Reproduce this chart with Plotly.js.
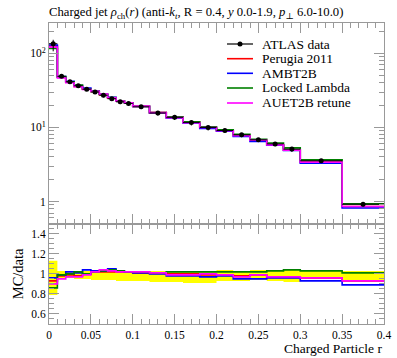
<!DOCTYPE html>
<html>
<head>
<meta charset="utf-8">
<script src="https://cdn.plot.ly/plotly-3.0.1.min.js"></script>
<style>html,body{margin:0;padding:0;background:#fff;}#chart{width:397px;height:358px;}</style>
</head>
<body>
<div id="chart"></div>
<script>
// Bin edges of charged particle r
var binEdges = [0,0.01,0.02,0.03,0.04,0.05,0.06,0.07,0.08,0.09,0.1,0.12,0.14,0.16,0.18,0.2,0.22,0.24,0.26,0.28,0.3,0.35,0.4];
// ATLAS data rho_ch(r)
var dataVals = [135, 49, 41.3, 36.5, 32.8, 30.1, 27.2, 24.4, 22.2, 21.1, 19.0, 15.7, 13.7, 11.7, 10.0, 9.1, 7.95, 6.8, 6.0, 5.1, 3.55, 0.92];
// data uncertainty band (as ratio to data)
var bandUp = [1.13, 1.03, 1.03, 1.03, 1.03, 1.03, 1.03, 1.03, 1.03, 1.03, 1.03, 1.03, 1.03, 1.03, 1.03, 1.04, 1.03, 1.04, 1.03, 1.04, 1.03, 1.03];
var bandDn = [0.79, 0.96, 0.96, 0.95, 0.95, 0.94, 0.94, 0.94, 0.93, 0.93, 0.93, 0.92, 0.92, 0.91, 0.91, 0.93, 0.93, 0.94, 0.93, 0.92, 0.95, 0.93];
// MC / data ratios
var ratioPerugia = [0.93, 0.98, 0.99, 0.98, 1.00, 1.02, 1.02, 1.02, 1.02, 1.02, 1.01, 1.01, 1.00, 1.00, 0.99, 0.99, 0.98, 0.99, 0.97, 0.97, 0.96, 0.93];
var ratioAMBT2B = [0.96, 0.99, 1.02, 1.01, 1.04, 1.03, 1.03, 1.05, 1.03, 1.02, 1.01, 1.00, 0.98, 0.98, 0.97, 0.98, 0.95, 0.95, 0.96, 0.96, 0.93, 0.89];
var ratioLocked = [0.86, 0.99, 1.00, 1.02, 1.00, 1.02, 1.03, 1.04, 1.03, 1.02, 1.02, 1.01, 1.02, 1.02, 1.02, 1.02, 1.02, 1.02, 1.03, 1.04, 1.03, 1.01];
var ratioAUET2B = [0.90, 0.95, 0.97, 0.97, 0.99, 1.02, 1.04, 1.03, 1.02, 1.02, 1.02, 1.01, 0.99, 0.99, 1.00, 0.99, 0.97, 0.99, 0.97, 0.97, 0.96, 0.93];
var legendNames = ["ATLAS data", "Perugia 2011", "AMBT2B", "Locked Lambda", "AUET2B retune"];
var mcNames = ["Perugia 2011", "AMBT2B", "Locked Lambda", "AUET2B retune"];
var mcColors = ["#ff0000", "#0000ff", "#008000", "#ff00ff"];
var mcRatios = [ratioPerugia, ratioAMBT2B, ratioLocked, ratioAUET2B];

function stepY(v) { return v.concat([v[v.length - 1]]); }
var centers = [], halfW = [];
for (var i = 0; i < dataVals.length; i++) {
  centers.push((binEdges[i] + binEdges[i + 1]) / 2);
  halfW.push((binEdges[i + 1] - binEdges[i]) / 2);
}
var errUp = dataVals.map(function (v, i) { return v * (bandUp[i] - 1); });
var errDn = dataVals.map(function (v, i) { return v * (1 - bandDn[i]); });

var FONT = "Liberation Serif, DejaVu Serif, serif";
var traces = [];
// ratio band
traces.push({x: binEdges, y: stepY(bandDn), xaxis: 'x2', yaxis: 'y2', mode: 'lines', line: {shape: 'hv', width: 0, color: '#ffff00'}, showlegend: false, hoverinfo: 'skip'});
traces.push({x: binEdges, y: stepY(bandUp), xaxis: 'x2', yaxis: 'y2', mode: 'lines', line: {shape: 'hv', width: 0, color: '#ffff00'}, fill: 'tonexty', fillcolor: '#ffff00', showlegend: false, hoverinfo: 'skip'});

for (var k = 0; k < mcNames.length; k++) {
  var mcVals = dataVals.map(function (v, i) { return v * mcRatios[k][i]; });
  traces.push({x: binEdges, y: stepY(mcVals), xaxis: 'x', yaxis: 'y', mode: 'lines', name: mcNames[k],
    line: {shape: 'hv', width: 1.6, color: mcColors[k]}});
  traces.push({x: binEdges, y: stepY(mcRatios[k]), xaxis: 'x2', yaxis: 'y2', mode: 'lines', name: mcNames[k],
    line: {shape: 'hv', width: 1.6, color: mcColors[k]}});
}
// data points
traces.push({x: centers, y: dataVals, xaxis: 'x', yaxis: 'y', mode: 'markers', name: 'ATLAS data',
  marker: {color: '#000', size: 5},
  error_y: {type: 'data', symmetric: false, array: errUp, arrayminus: errDn, color: '#000', thickness: 1, width: 0},
  error_x: {type: 'data', array: halfW, color: '#000', thickness: 1, width: 0}});

var axisCommon = {showline: true, linecolor: '#999', linewidth: 1, mirror: 'allticks', ticks: 'inside',
  tickcolor: '#999', showgrid: false, zeroline: false, tickfont: {family: FONT, size: 11.5, color: '#000'}};

var minorLog = [];
[0.1, 1, 10, 100].forEach(function (d) { for (var m = 2; m <= 9; m++) minorLog.push(m * d); });

// manual legend (paper coordinates)
var legColors = ['#000'].concat(mcColors);
var legRowsPx = [44, 58.7, 73.3, 88, 103];
var shapes = [], annotations = [];
function py(px) { return 1 - (px - 23) / 301; }
function pxX(px) { return (px - 49) / 335; }
for (var r = 0; r < legendNames.length; r++) {
  shapes.push({type: 'line', xref: 'paper', yref: 'paper', x0: pxX(227), x1: pxX(253), y0: py(legRowsPx[r]), y1: py(legRowsPx[r]),
    line: {color: legColors[r], width: r === 0 ? 1.2 : 1.6}});
  annotations.push({text: legendNames[r], xref: 'paper', yref: 'paper', x: pxX(260), y: py(legRowsPx[r]), xanchor: 'left', yanchor: 'middle',
    showarrow: false, font: {family: FONT, size: 13.5, color: '#000'}});
}
shapes.push({type: 'circle', xref: 'paper', yref: 'paper', xsizemode: 'pixel', ysizemode: 'pixel', xanchor: pxX(240), yanchor: py(legRowsPx[0]),
  x0: -2.5, x1: 2.5, y0: -2.5, y1: 2.5, fillcolor: '#000', line: {color: '#000', width: 0}});
annotations.push({text: 'Charged Particle r', xref: 'paper', yref: 'paper', x: 1, y: -0.083, xanchor: 'right', yanchor: 'middle',
  showarrow: false, font: {family: FONT, size: 13.5, color: '#000'}});

var layout = {
  width: 397, height: 358,
  margin: {l: 49, r: 13, t: 23, b: 34},
  paper_bgcolor: '#fff', plot_bgcolor: '#fff',
  showlegend: false,
  font: {family: FONT, size: 11, color: '#000'},
  title: {text: 'Charged jet <i>ρ</i><sub>ch</sub>(<i>r</i>) (anti-<i>k</i><sub><i>t</i></sub>, R = 0.4, <i>y</i> 0.0-1.9, <i>p</i><sub>⊥</sub> 6.0-10.0)',
    font: {family: FONT, size: 12.7, color: '#000'}, x: 49 / 397, xanchor: 'left', xref: 'container', y: 1 - 12 / 358, yanchor: 'middle', yref: 'container'},
  xaxis: Object.assign({}, axisCommon, {domain: [0, 1], anchor: 'y', range: [0, 0.4], dtick: 0.05, tick0: 0, ticklen: 10,
    showticklabels: false, minor: {dtick: 0.01, tick0: 0, ticklen: 5, tickcolor: '#999', ticks: 'inside'}}),
  yaxis: Object.assign({}, axisCommon, {domain: [0.333, 1], anchor: 'x', type: 'log', range: [-0.30, 2.41],
    tickmode: 'array', tickvals: [1, 10, 100], ticktext: ['1', '10<sup>1</sup>', '10<sup>2</sup>'], ticklen: 10,
    minor: {tickmode: 'array', tickvals: minorLog, ticklen: 5, tickcolor: '#999', ticks: 'inside'}}),
  xaxis2: Object.assign({}, axisCommon, {domain: [0, 1], anchor: 'y2', range: [0, 0.4], dtick: 0.05, tick0: 0, ticklen: 10,
    matches: 'x', minor: {dtick: 0.01, tick0: 0, ticklen: 5, tickcolor: '#999', ticks: 'inside'}}),
  yaxis2: Object.assign({}, axisCommon, {domain: [0, 0.333], anchor: 'x2', range: [0.5, 1.5],
    tickmode: 'array', tickvals: [0.6, 0.8, 1, 1.2, 1.4], ticktext: ['0.6', '0.8', '1', '1.2', '1.4'], ticklen: 10,
    minor: {dtick: 0.05, tick0: 0.5, ticklen: 5, tickcolor: '#999', ticks: 'inside'},
    title: {text: 'MC/data', font: {family: FONT, size: 14.5, color: '#000'}, standoff: 4}}),
  shapes: shapes,
  annotations: annotations
};

Plotly.newPlot('chart', traces, layout, {displayModeBar: false, staticPlot: true});
</script>
</body>
</html>
